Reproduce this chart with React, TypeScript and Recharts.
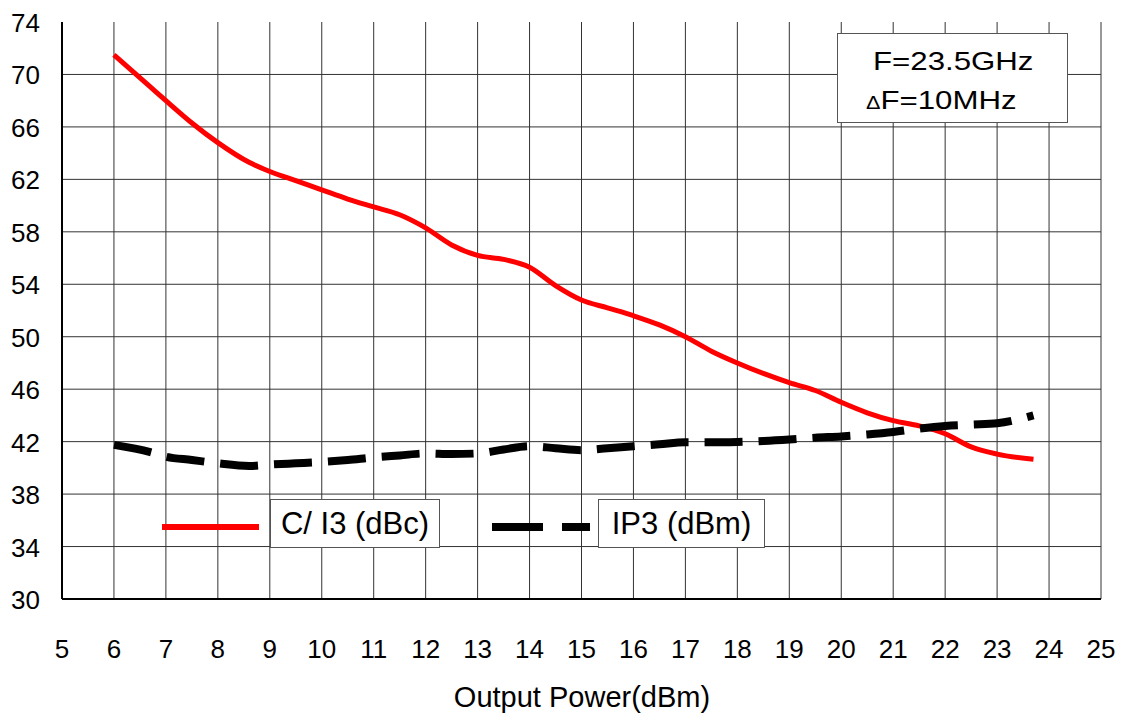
import React from 'react';
import { LineChart, Line, XAxis, YAxis, ReferenceLine, Legend } from 'recharts';

const powerDbm = [6, 6.7, 7, 7.5, 8, 8.6, 9, 9.5, 10, 10.5, 11, 11.5, 12, 12.5, 13, 13.5, 14, 14.5, 15, 15.5, 16, 16.5, 17, 17.5, 18, 18.5, 19, 19.5, 20, 20.5, 21, 21.5, 22, 22.5, 23, 23.7];
const ci3 = [71.5, 69.05, 68.0, 66.3, 64.8, 63.3, 62.6, 61.9, 61.2, 60.5, 59.9, 59.3, 58.3, 57.0, 56.2, 55.9, 55.3, 53.9, 52.8, 52.2, 51.6, 50.9, 50.0, 48.9, 48.0, 47.2, 46.5, 45.9, 45.0, 44.2, 43.6, 43.2, 42.6, 41.6, 41.05, 40.65];
const ip3 = [41.75, 41.2, 40.85, 40.6, 40.35, 40.15, 40.25, 40.35, 40.45, 40.6, 40.8, 40.95, 41.1, 41.05, 41.1, 41.4, 41.65, 41.5, 41.35, 41.5, 41.65, 41.8, 41.95, 41.95, 41.98, 42.05, 42.16, 42.3, 42.4, 42.55, 42.74, 43.0, 43.2, 43.3, 43.4, 44.0];

const xTicks = [5, 6, 7, 8, 9, 10, 11, 12, 13, 14, 15, 16, 17, 18, 19, 20, 21, 22, 23, 24, 25];
const yTicks = [30, 34, 38, 42, 46, 50, 54, 58, 62, 66, 70, 74];
const hGrid = [34, 38, 42, 46, 50, 54, 58, 62, 66, 70];
const vGrid = [6, 7, 8, 9, 10, 11, 12, 13, 14, 15, 16, 17, 18, 19, 20, 21, 22, 23, 24, 25];

const seriesNames = { ci3: 'C/ I3 (dBc)', ip3: 'IP3 (dBm)' };
const annotation = ['F=23.5GHz', 'F=10MHz'];
const xTitle = 'Output Power(dBm)';

const data = powerDbm.map((p, i) => ({ p, ci3: ci3[i], ip3: ip3[i] }));

const FONT = '"Liberation Sans", Arial, sans-serif';

const XTick = (props: any) => {
  const { x, y, payload } = props;
  return (
    <text x={x} y={y + 51} textAnchor="middle" fontSize={26} fontFamily={FONT} fill="#000">
      {payload.value}
    </text>
  );
};

const YTick = (props: any) => {
  const { y, payload } = props;
  return (
    <text x={40} y={y + 10} textAnchor="end" fontSize={26} fontFamily={FONT} fill="#000">
      {payload.value}
    </text>
  );
};

const boxText: React.CSSProperties = {
  position: 'absolute',
  top: 499,
  height: 47,
  border: '1px solid #555',
  background: '#fff',
  fontSize: 31,
  lineHeight: '47px',
  textAlign: 'center',
  color: '#000',
};

const LegendContent = () => (
  <div style={{ position: 'absolute', left: 0, top: 0, width: 1125, height: 713, fontFamily: FONT }}>
    <div style={{ position: 'absolute', left: 162, top: 524, width: 97, height: 6, background: '#ff0000' }} />
    <div style={{ ...boxText, left: 270, width: 168 }}>{seriesNames.ci3}</div>
    <div style={{ position: 'absolute', left: 492, top: 523, width: 51, height: 8, background: '#000' }} />
    <div style={{ position: 'absolute', left: 562, top: 523, width: 28, height: 8, background: '#000' }} />
    <div style={{ ...boxText, left: 598, width: 165 }}>{seriesNames.ip3}</div>
  </div>
);

export default function App() {
  return (
    <div style={{ position: 'absolute', left: 0, top: 0, width: 1125, height: 713, background: '#fff', fontFamily: FONT }}>
      <LineChart width={1125} height={713} data={data} margin={{ top: 22, right: 24, left: 0, bottom: 0 }}>
        <XAxis
          dataKey="p"
          type="number"
          domain={[5, 25]}
          ticks={xTicks}
          interval={0}
          tick={<XTick />}
          tickLine={false}
          axisLine={{ stroke: '#000', strokeWidth: 2 }}
          height={114}
        />
        <YAxis
          type="number"
          domain={[30, 74]}
          ticks={yTicks}
          interval={0}
          tick={<YTick />}
          tickLine={false}
          axisLine={{ stroke: '#000', strokeWidth: 2 }}
          width={62}
        />
        {hGrid.map((v) => (
          <ReferenceLine key={'h' + v} y={v} stroke="#333" strokeWidth={1} />
        ))}
        {vGrid.map((v) => (
          <ReferenceLine key={'v' + v} x={v} stroke="#333" strokeWidth={1} />
        ))}
        <Line
          dataKey="ci3"
          name={seriesNames.ci3}
          type="monotone"
          stroke="#ff0000"
          strokeWidth={5}
          dot={false}
          isAnimationActive={false}
        />
        <Line
          dataKey="ip3"
          name={seriesNames.ip3}
          type="monotone"
          stroke="#000"
          strokeWidth={8}
          strokeDasharray="38 16"
          dot={false}
          isAnimationActive={false}
        />
        <Legend
          content={<LegendContent />}
          layout="horizontal"
          verticalAlign="middle"
          align="center"
          wrapperStyle={{ position: 'absolute', left: 0, top: 0, width: 1125, height: 713, pointerEvents: 'none' }}
        />
      </LineChart>
      <div style={{ position: 'absolute', left: 837, top: 33, width: 229, height: 88, border: '1px solid #555', background: '#fff', color: '#000' }}>
        <div style={{ position: 'absolute', left: 35, top: 12, fontSize: 26, lineHeight: '30px', whiteSpace: 'nowrap', transform: 'scaleX(1.2)', transformOrigin: 'left center' }}>
          {annotation[0]}
        </div>
        <div style={{ position: 'absolute', left: 28, top: 51, fontSize: 26, lineHeight: '30px', whiteSpace: 'nowrap', transform: 'scaleX(1.2)', transformOrigin: 'left center' }}>
          <span style={{ fontSize: 18 }}>Δ</span>{annotation[1]}
        </div>
      </div>
      <div style={{ position: 'absolute', left: 0, top: 680, width: 1164, textAlign: 'center', fontSize: 29, lineHeight: '34px', color: '#000' }}>
        {xTitle}
      </div>
    </div>
  );
}
